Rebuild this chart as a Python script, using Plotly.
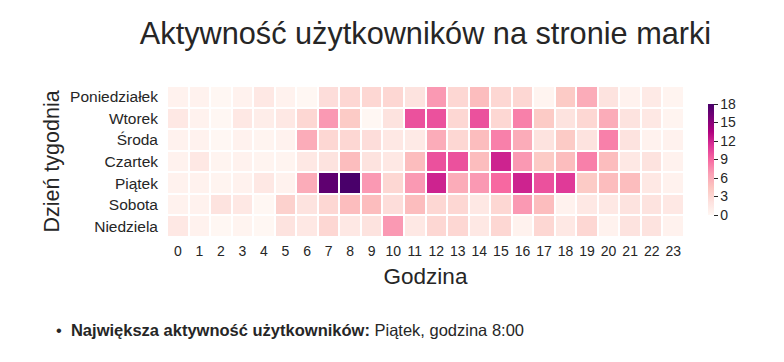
import plotly.graph_objects as go

hours = list(range(24))
hour_labels = [str(h) for h in hours]
days = ["Poniedziałek", "Wtorek", "Środa", "Czartek", "Piątek", "Sobota", "Niedziela"]

mon = [0.5, 0.5, 0, 0.5, 1.5, 0.5, 0, 2.5, 3, 3, 3, 2, 7, 3, 5, 3, 3, 0.3, 4, 6, 2, 0.5, 1.3, 0.3]
tue = [1.5, 0.5, 0, 1.5, 1, 1.5, 3, 7, 4, 0, 2, 10, 10, 3, 10, 3, 8, 4, 2, 3, 6, 2, 1.5, 0.3]
wed = [0.5, 0.5, 0, 0.5, 0.3, 0.5, 6, 3, 3, 2.5, 1.5, 1.3, 6, 3, 5, 8, 6, 2, 4, 2, 8, 2, 0.5, 0.5]
thu = [0.5, 1.5, 0.3, 0.5, 0.3, 0.3, 1.5, 2, 5, 2, 1.5, 5, 10, 10, 5, 12, 7, 4, 5, 8, 5, 1.5, 2, 0.5]
fri = [0.5, 0.5, 0.3, 0.5, 1.5, 0.5, 6, 17, 18, 7, 3, 7, 12, 6, 7, 9, 12, 10, 11, 4, 5, 5, 1.5, 0.5]
sat = [0.5, 0.5, 2, 1.5, 0, 3.5, 2, 3, 5, 5, 2.5, 5, 3, 3, 1.5, 3, 7, 5, 0.5, 1.5, 1.5, 2, 2, 1.5]
sun = [1.5, 0.5, 0, 0.3, 0, 2, 1.5, 3, 1.5, 2, 7, 1.5, 3, 3, 1.5, 3, 0.5, 3, 1.5, 3, 0.5, 2, 2, 0.5]

z = [mon, tue, wed, thu, fri, sat, sun]

title_text = "Aktywność użytkowników na stronie marki"
x_title = "Godzina"
y_title = "Dzień tygodnia"
footer = "•  <b>Największa aktywność użytkowników:</b> Piątek, godzina 8:00"

font_family = "Liberation Sans, Arial, sans-serif"
text_color = "#262626"

W, H = 784, 362
OFF = 8  # page body margin compensation
L, R, T, B = 167 - OFF, 684 - OFF, 86 - OFF, 237 - OFF

fig = go.Figure(
    go.Heatmap(
        z=z,
        x=hour_labels,
        y=days,
        colorscale="RdPu",
        zmin=0,
        zmax=18,
        xgap=2,
        ygap=2,
        colorbar=dict(
            thickness=6,
            len=111 / 151,
            lenmode="fraction",
            x=(708 - 167) / 517,
            xanchor="left",
            y=(237 - 159.5) / 151,
            yanchor="middle",
            outlinewidth=0,
            xpad=0,
            ypad=0,
            tickvals=[0, 3, 6, 9, 12, 15, 18],
            ticks="outside",
            ticklen=4,
            tickcolor=text_color,
            tickfont=dict(size=14, color=text_color, family=font_family),
        ),
    )
)

fig.update_layout(
    width=W,
    height=H,
    margin=dict(l=L, r=W - R, t=T, b=H - B, autoexpand=False),
    paper_bgcolor="white",
    plot_bgcolor="white",
    font=dict(family=font_family, color=text_color),
    title=dict(
        text=title_text,
        x=0.5,
        xref="paper",
        xanchor="center",
        y=1 - 25 / H,
        yref="container",
        yanchor="middle",
        font=dict(size=30.7, color=text_color, family=font_family),
    ),
    xaxis=dict(
        type="category",
        showgrid=False,
        zeroline=False,
        ticks="",
        ticklabelstandoff=4,
        tickfont=dict(size=14, color=text_color),
        title=dict(text=x_title, font=dict(size=22.5, color=text_color), standoff=10),
    ),
    yaxis=dict(
        type="category",
        autorange="reversed",
        showgrid=False,
        zeroline=False,
        ticks="",
        ticklabelstandoff=8,
        tickfont=dict(size=15.5, color=text_color),
        title=dict(text=y_title, font=dict(size=21.5, color=text_color), standoff=4),
    ),
    annotations=[
        dict(
            text=footer,
            xref="paper",
            yref="paper",
            x=(46 - L) / (R - L),
            y=(B - (330 - OFF)) / (B - T),
            xanchor="left",
            yanchor="middle",
            showarrow=False,
            font=dict(size=16.5, color=text_color, family=font_family),
        )
    ],
)

fig.write_html("out.html")
